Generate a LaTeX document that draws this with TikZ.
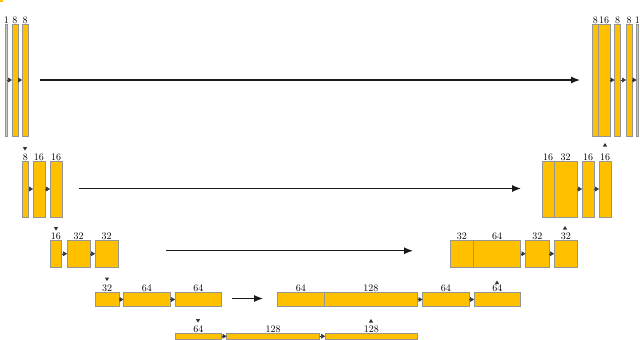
\documentclass[tikz,border=0pt]{standalone}
\usetikzlibrary{arrows.meta}
\definecolor{uyellow}{HTML}{FFC000}
\definecolor{ugray}{HTML}{959595}
\definecolor{umark}{HTML}{333333}
\newcommand{\fmbox}[6]{%
  \node[fmap, minimum width=#4pt, minimum height=#5pt] (#1) at (#2,#3) {};
  \node[lbl] (#1l) at ([yshift=0.6pt]#1.north) {#6};}
\newcommand{\thinbox}[6]{%
  \node[thinmap, minimum width=#4pt, minimum height=#5pt] (#1) at (#2,#3) {};
  \node[lbl] (#1l) at ([yshift=0.6pt]#1.north) {#6};}
\newcommand{\dtri}[2]{\fill[umark] (#1-2.2,#2) -- (#1+2.2,#2) -- (#1,#2+3.6) -- cycle;}
\newcommand{\utri}[2]{\fill[umark] (#1-2.2,#2+3.6) -- (#1+2.2,#2+3.6) -- (#1,#2) -- cycle;}
\begin{document}
\begin{tikzpicture}[x=1pt,y=-1pt,
  fmap/.style={draw=ugray, fill=uyellow, line width=0.6pt, inner sep=0pt, outer sep=0pt, anchor=north west},
  thinmap/.style={draw=ugray, fill=gray!45, line width=0.4pt, inner sep=0pt, outer sep=0pt, anchor=north west},
  lbl/.style={anchor=base, inner sep=0pt, font=\fontsize{10}{10}\selectfont},
  smallarr/.style={-{Triangle[length=3.8pt,width=4.6pt]}, line width=0.4pt, draw=umark, fill=umark},
  bigarr/.style={-{Latex[length=9pt,width=7pt]}, line width=1.2pt, draw=black!90}]
\useasboundingbox (0,0) rectangle (640,340);
\fill[uyellow] (0,0) rectangle (3,1.5);
% row 1
\thinbox{r1a}{5.5}{24}{1.5}{112}{1}
\fmbox{r1b}{12}{24}{6}{112}{8}
\fmbox{r1c}{22}{24}{6}{112}{8}
\fmbox{r1d}{592.5}{24}{5.5}{112}{8}
\fmbox{r1e}{598}{24}{12}{112}{16}
\fmbox{r1f}{614.5}{24}{6}{112}{8}
\fmbox{r1g}{626}{24}{6}{112}{8}
\thinbox{r1h}{636.5}{24}{1.5}{112}{1}
% row 2
\fmbox{r2a}{22.5}{161}{6}{56}{8}
\fmbox{r2b}{33}{161}{12}{56}{16}
\fmbox{r2c}{50}{161}{12}{56}{16}
\fmbox{r2d}{542}{161}{12}{56}{16}
\fmbox{r2e}{554}{161}{23}{56}{32}
\fmbox{r2f}{582}{161}{12}{56}{16}
\fmbox{r2g}{599}{161}{12}{56}{16}
% row 3
\fmbox{r3a}{50}{240}{11.5}{27.5}{16}
\fmbox{r3b}{67}{240}{23}{27.5}{32}
\fmbox{r3c}{95}{240}{23}{27.5}{32}
\fmbox{r3d}{450}{240}{23.5}{27.5}{32}
\fmbox{r3e}{473.5}{240}{47}{27.5}{64}
\fmbox{r3f}{525.5}{240}{23.5}{27.5}{32}
\fmbox{r3g}{554}{240}{23.5}{27.5}{32}
% row 4
\fmbox{r4a}{95}{292.5}{24}{14}{32}
\fmbox{r4b}{123.5}{292.5}{46.5}{14}{64}
\fmbox{r4c}{175}{292.5}{46.5}{14}{64}
\fmbox{r4d}{277.5}{292.5}{46.5}{14}{64}
\fmbox{r4e}{324}{292.5}{93.5}{14}{128}
\fmbox{r4f}{422.5}{292.5}{46.5}{14}{64}
\fmbox{r4g}{474}{292.5}{46.5}{14}{64}
% row 5
\fmbox{r5a}{175}{333}{46.5}{6.5}{64}
\fmbox{r5b}{226.5}{333}{93}{6.5}{128}
\fmbox{r5c}{325}{333}{92.5}{6.5}{128}
% small arrows
\foreach \a/\b in {r1a/r1b,r1b/r1c,r1e/r1f,r1f/r1g,r1g/r1h,
                   r2a/r2b,r2b/r2c,r2e/r2f,r2f/r2g,
                   r3a/r3b,r3b/r3c,r3e/r3f,r3f/r3g,
                   r4a/r4b,r4b/r4c,r4e/r4f,r4f/r4g,
                   r5a/r5b,r5b/r5c}
  \draw[smallarr] (\a.east) -- (\b.west);
% long arrows
\draw[bigarr, shorten <=12pt, shorten >=12.5pt] (r1c.east) -- (r1d.west);
\draw[bigarr, shorten <=17pt, shorten >=21pt] ([yshift=0.5pt]r2c.east) -- ([yshift=0.5pt]r2d.west);
\draw[bigarr, shorten <=48pt, shorten >=37pt] ([yshift=3pt]r3c.east) -- ([yshift=3pt]r3d.west);
\draw[bigarr, shorten <=10.5pt, shorten >=14.5pt] ([yshift=1pt]r4c.east) -- ([yshift=1pt]r4d.west);
% pooling / upsampling marks
\dtri{25}{147}
\utri{605}{143}
\dtri{56}{227}
\utri{565}{226}
\dtri{107}{277.5}
\utri{497}{280.5}
\dtri{198}{319}
\utri{371}{319}
\end{tikzpicture}
\end{document}
